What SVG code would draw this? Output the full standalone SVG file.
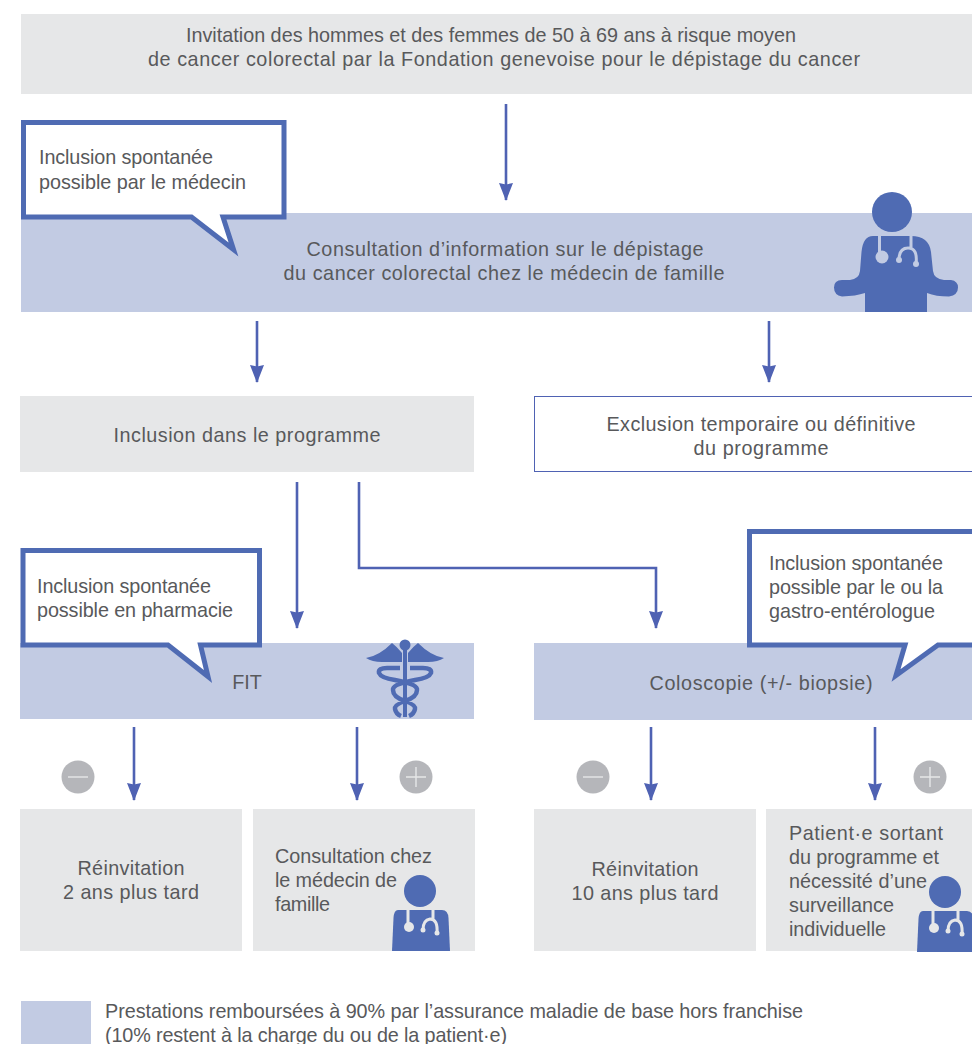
<svg xmlns="http://www.w3.org/2000/svg" xmlns:xlink="http://www.w3.org/1999/xlink" width="972" height="1044" viewBox="0 0 972 1044">
<style>
text{font-family:"Liberation Sans",Arial,sans-serif;font-size:19.800px;fill:#58595b}
.m{text-anchor:middle}
.g{fill:#e6e7e8}
.b{fill:#c2cbe3}
.ic{fill:#4f6bb3}
.co{fill:#fff;stroke:#4f6bb3;stroke-width:5;stroke-miterlimit:10}
.cn{fill:none;stroke:#4f62b3;stroke-width:2.6}
.st{fill:none;stroke-width:3}
.sign{fill:#b5b6ba}
.sl{stroke:#e6e7e8;stroke-width:1.4;fill:none}
</style>
<defs>
<marker id="ah" markerUnits="userSpaceOnUse" markerWidth="18" markerHeight="14" refX="17" refY="7" orient="auto"><path d="M0 0L18 7L0 14L1.500 7Z" fill="#4f62b3"/></marker>
<g id="doc">
<circle cx="0" cy="0" r="16" class="ic"/>
<path class="ic" d="M-22 19H22Q28 19 28.500 27L30 60H-28L-26.500 27Q-26 19 -22 19Z"/>
<path class="st" stroke="#e6e7e8" d="M-12 19V32M13 19V28M3 39Q3 29 10 28Q18 28 17 42"/>
<circle cx="-11" cy="36" r="5" fill="#e6e7e8"/><circle cx="3" cy="39" r="2.500" fill="#e6e7e8"/><circle cx="17" cy="42" r="2.500" fill="#e6e7e8"/>
</g>
</defs>
<g id="n-invitation"><rect class="g" x="21" y="14" width="951" height="80"/>
<text class="m" x="491" y="42" textLength="610">Invitation des hommes et des femmes de 50 à 69 ans à risque moyen</text>
<text class="m" x="504" y="66" textLength="712">de cancer colorectal par la Fondation genevoise pour le dépistage du cancer</text></g>
<g id="n-consultation"><rect class="b" x="21" y="213" width="951" height="99"/>
<text class="m" x="505" y="256" textLength="397">Consultation d’information sur le dépistage</text>
<text class="m" x="504" y="280" textLength="441">du cancer colorectal chez le médecin de famille</text>
<g id="icon-doctor-large">
<circle class="ic" cx="892" cy="212" r="20"/>
<path class="ic" d="M873 236H911Q929 236 931 252L933 271Q934 279 944 280H951Q958 281 958 287.500Q958 295 949 296.500Q936 296.500 927 293V312H865V293Q856 296 842 296.500Q834 295 834 287.500Q834 280 842 280H850Q859 279 860 271L861.500 252Q863 236 873 236Z"/>
<path class="st" stroke="#c2cbe3" d="M879.500 236V252M911 236V248M899 260Q899 248 908 248Q918 248 916 264"/>
<circle cx="882" cy="257" r="6.500" fill="#c2cbe3"/><circle cx="899" cy="260" r="3" fill="#c2cbe3"/><circle cx="916" cy="264" r="3" fill="#c2cbe3"/>
</g></g>
<g id="n-callout-medecin"><path class="co" d="M23.500 122.500H284V217H223L233.500 249.500L191.500 217H23.500Z"/>
<text x="39" y="164" textLength="174">Inclusion spontanée</text><text x="39" y="189" textLength="207">possible par le médecin</text></g>
<g id="n-inclusion"><rect class="g" x="20" y="396" width="454" height="76"/>
<text class="m" x="247" y="442" textLength="267">Inclusion dans le programme</text></g>
<g id="n-exclusion"><rect x="534.500" y="396.500" width="440" height="75" fill="#fff" stroke="#4f62b3" stroke-width="1"/>
<text class="m" x="761" y="431" textLength="309">Exclusion temporaire ou définitive</text>
<text class="m" x="761" y="455" textLength="135">du programme</text></g>
<g id="n-fit"><rect class="b" x="20" y="643" width="454" height="76"/>
<text class="m" x="247" y="689">FIT</text>
<g id="icon-caduceus">
<circle class="ic" cx="405" cy="645" r="5.500"/>
<path class="ic" d="M392 643Q395 645 402 653V662H382Q372 662 366 658Q379 656 392 643ZM418 643Q415 645 408 653V662H428Q438 662 444 658Q431 656 418 643Z"/>
<rect class="ic" x="403" y="650" width="4" height="67"/>
<path fill="none" stroke="#4f6bb3" stroke-width="4.500" d="M400 668H387Q378 668 379 673Q381 678 395 680Q418 684 417 690Q417 697 405 701Q394 705 395 709Q396 714 401 716M410 668H423Q432 668 431 673Q429 678 415 680Q392 684 393 690Q393 697 405 701Q416 705 415 709Q414 714 409 716"/>
</g></g>
<g id="n-callout-pharmacie"><path class="co" d="M23 550.500H259.500V645H200.500L208 676.500L168 645H23Z"/>
<text x="37" y="593" textLength="174">Inclusion spontanée</text><text x="37" y="617" textLength="196">possible en pharmacie</text></g>
<g id="n-coloscopie"><rect class="b" x="534" y="643" width="438" height="77"/>
<text class="m" x="761" y="690" textLength="223">Coloscopie (+/- biopsie)</text></g>
<g id="n-callout-gastro"><path class="co" d="M975 531.500H749.500V645H905L896 675.500L938 645H975"/>
<text x="769" y="570" textLength="174">Inclusion spontanée</text><text x="769" y="594" textLength="174">possible par le ou la</text><text x="769" y="618" textLength="166">gastro-entérologue</text></g>
<g id="n-reinvitation-2"><rect class="g" x="20" y="809" width="222" height="142"/>
<text class="m" x="131" y="875" textLength="107">Réinvitation</text><text class="m" x="131" y="899" textLength="136">2 ans plus tard</text></g>
<g id="n-consultation-medecin"><rect class="g" x="253" y="809" width="222" height="142"/>
<text x="275" y="863" textLength="157">Consultation chez</text><text x="275" y="887" textLength="122">le médecin de</text><text x="275" y="911" textLength="55">famille</text>
<use xlink:href="#doc" href="#doc" x="420" y="891"/></g>
<g id="n-reinvitation-10"><rect class="g" x="534" y="809" width="222" height="142"/>
<text class="m" x="645" y="876" textLength="107">Réinvitation</text><text class="m" x="645" y="900" textLength="147">10 ans plus tard</text></g>
<g id="n-patient"><rect class="g" x="766" y="809" width="206" height="142"/>
<text x="789" y="840" textLength="154">Patient·e sortant</text><text x="789" y="864" textLength="150">du programme et</text><text x="789" y="888" textLength="138">nécessité d’une</text><text x="789" y="912" textLength="105">surveillance</text><text x="789" y="936" textLength="97">individuelle</text>
<use xlink:href="#doc" href="#doc" x="945" y="892"/></g>
<g id="n-minus-1"><circle class="sign" cx="78" cy="777" r="16.500"/><path class="sl" d="M68 777H88"/></g>
<g id="n-plus-1"><circle class="sign" cx="416" cy="777" r="16.500"/><path class="sl" d="M406 777H426M416 767V787"/></g>
<g id="n-minus-2"><circle class="sign" cx="593" cy="777" r="16.500"/><path class="sl" d="M583 777H603"/></g>
<g id="n-plus-2"><circle class="sign" cx="930" cy="777" r="16.500"/><path class="sl" d="M920 777H940M930 767V787"/></g>
<g id="connectors">
<path class="cn" marker-end="url(#ah)" d="M506 104V200"/>
<path class="cn" marker-end="url(#ah)" d="M257 321V382"/>
<path class="cn" marker-end="url(#ah)" d="M769 321V382"/>
<path class="cn" marker-end="url(#ah)" d="M297 482V628"/>
<path class="cn" marker-end="url(#ah)" d="M359 482V568H656V628"/>
<path class="cn" marker-end="url(#ah)" d="M134 727V800"/>
<path class="cn" marker-end="url(#ah)" d="M357 727V800"/>
<path class="cn" marker-end="url(#ah)" d="M651 727V800"/>
<path class="cn" marker-end="url(#ah)" d="M875 727V800"/>
</g>
<g id="n-legend"><rect class="b" x="21" y="1001" width="70" height="43"/>
<text x="105" y="1018" textLength="698">Prestations remboursées à 90% par l’assurance maladie de base hors franchise</text>
<text x="105" y="1042" textLength="402">(10% restent à la charge du ou de la patient·e)</text></g>
</svg>
